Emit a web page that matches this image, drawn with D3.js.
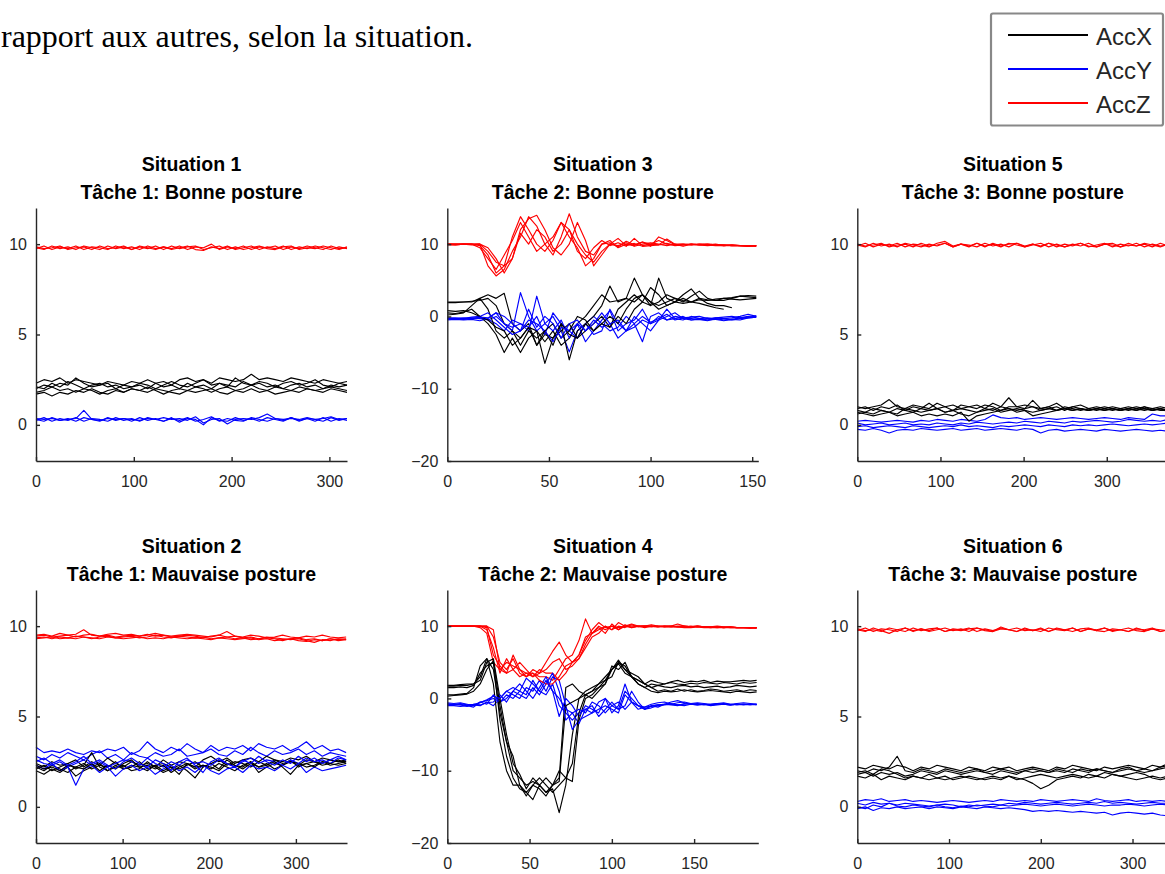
<!DOCTYPE html>
<html>
<head>
<meta charset="utf-8">
<script src="https://cdn.jsdelivr.net/npm/d3@7"></script>
<style>
body { margin: 0; background: #fff; }
svg { display: block; }
.axis path, .axis line { stroke: #262626; stroke-width: 1.4; }
.axis text { fill: #262626; font-family: "Liberation Sans", Arial, sans-serif; font-size: 16px; }
.title { font-family: "Liberation Sans", Arial, sans-serif; font-weight: bold; font-size: 19.5px; text-anchor: middle; fill: #000; }
.trace { fill: none; stroke-width: 1.15; stroke-linejoin: round; }
.legend text { font-family: "Liberation Sans", Arial, sans-serif; font-size: 24px; fill: #262626; }
.intro { font-family: "Liberation Serif", "Times New Roman", serif; font-size: 32px; fill: #000; }
</style>
</head>
<body>
<svg id="chart" width="1165" height="874"></svg>
<script>
// tick values and ranges
var xTicksLong = [0, 100, 200, 300],
    xTicksShort = [0, 50, 100, 150],
    yTicksFlat = [0, 5, 10],
    yTicksWide = [-20, -10, 0, 10],
    yDomainFlat = [-2, 12],
    yDomainWide = [-20, 15];

var legendNames = ["AccX", "AccY", "AccZ"],
    legendColors = ["#000000", "#0000ff", "#ff0000"];

// Situation 1 - Tâche 1: Bonne posture (318 samples)
var s1AccX = [
  [2.3,2.5,2.4,2.6,2.3,2.5,2.4,2.3,2.2,2.4,2.3,2.2,2.4,2.3,2.5,2.3,2.4,2.2,2.5,2.6,2.4,2.5,2.3,2.6,2.5,2.4,2.5,2.8,2.5,2.6,2.5,2.4,2.6,2.5,2.4,2.3,2.5,2.4,2.3,2.4],
  [2.0,2.2,2.1,2.3,2.2,2.6,2.3,2.1,2.2,2.3,2.0,2.2,2.1,2.2,2.0,2.3,2.1,2.2,2.0,2.3,2.1,2.2,2.0,2.3,2.2,2.1,2.4,2.2,2.3,2.1,2.2,2.0,2.2,2.3,2.1,2.2,2.0,2.2,2.1,2.2],
  [1.8,1.9,2.1,1.9,2.0,1.8,2.0,1.9,1.7,1.9,2.0,1.8,2.0,1.9,2.1,1.9,1.7,1.9,2.0,1.9,2.1,2.0,1.8,2.0,2.1,1.9,2.0,2.2,2.0,1.9,2.1,2.0,1.9,2.1,2.0,1.9,2.0,2.1,2.0,1.9],
  [1.7,1.8,1.6,1.8,1.7,1.9,1.8,2.0,1.8,1.7,1.9,1.8,2.0,1.9,1.8,2.0,1.9,1.8,1.7,1.9,1.8,1.9,2.0,1.8,1.7,1.9,1.8,2.0,1.8,1.9,1.7,1.8,1.9,1.8,2.0,1.9,1.8,2.0,1.9,1.8],
  [2.1,2.0,2.3,2.1,2.4,2.2,2.0,2.2,2.3,2.1,2.2,2.0,2.1,2.3,2.2,2.0,2.2,2.4,2.2,2.1,2.3,2.5,2.2,2.3,2.1,2.6,2.3,2.2,2.4,2.3,2.1,2.3,2.4,2.2,2.3,2.5,2.2,2.1,2.3,2.2]
];
var s1AccY = [
  [0.35,0.3,0.35,0.25,0.3,0.35,0.8,0.3,0.25,0.35,0.3,0.35,0.3,0.25,0.35,0.3,0.4,0.3,0.35,0.25,0.45,0.1,0.3,0.35,0.05,0.3,0.35,0.3,0.4,0.6,0.35,0.3,0.35,0.3,0.4,0.3,0.35,0.45,0.3,0.35],
  [0.3,0.2,0.4,0.25,0.35,0.2,0.4,0.3,0.2,0.4,0.25,0.35,0.2,0.4,0.25,0.35,0.2,0.4,0.15,0.35,0.3,0.0,0.4,0.25,0.2,0.4,0.25,0.35,0.2,0.4,0.3,0.2,0.4,0.25,0.35,0.2,0.4,0.2,0.35,0.25],
  [0.25,0.4,0.2,0.35,0.25,0.4,0.2,0.35,0.3,0.2,0.4,0.25,0.35,0.2,0.4,0.3,0.2,0.35,0.25,0.4,0.2,0.3,0.45,0.2,0.35,0.25,0.2,0.4,0.3,0.2,0.35,0.25,0.4,0.2,0.35,0.3,0.2,0.4,0.25,0.35]
];
var s1AccZ = [
  [9.8,9.7,9.9,9.75,9.85,9.7,9.9,9.8,9.7,9.9,9.75,9.85,9.7,9.9,9.8,9.7,9.85,9.75,9.9,9.7,9.85,9.8,10,9.7,9.85,9.75,9.9,9.7,9.85,9.8,9.9,9.7,9.85,9.75,9.9,9.8,9.7,9.9,9.75,9.8],
  [9.75,9.9,9.7,9.85,9.75,9.9,9.7,9.85,9.8,9.7,9.9,9.75,9.85,9.7,9.9,9.75,9.85,9.7,9.8,9.9,9.7,9.65,9.85,9.75,9.9,9.7,9.8,9.9,9.7,9.85,9.75,9.9,9.7,9.85,9.75,9.9,9.8,9.7,9.85,9.75],
  [9.85,9.75,9.8,9.9,9.7,9.8,9.85,9.7,9.9,9.75,9.8,9.9,9.7,9.85,9.75,9.9,9.7,9.9,9.75,9.85,9.9,9.7,9.8,9.9,9.7,9.85,9.7,9.8,9.9,9.75,9.7,9.85,9.9,9.7,9.8,9.75,9.9,9.8,9.7,9.85]
];

// Situation 2 - Tâche 1: Mauvaise posture (358 samples)
var s2AccX = [
  [2.2,2.0,2.3,2.1,1.9,2.2,2.4,2.1,2.3,2.2,2.5,2.1,2.3,2.2,2.0,2.3,2.4,2.2,2.1,2.3,2.5,2.2,2.4,2.6,2.3,2.5,2.4,2.2,2.5,2.3,2.6,2.4,2.5,2.3,2.6,2.5,2.4,2.6,2.5,2.5],
  [2.0,1.8,2.1,1.9,2.2,1.7,2.0,2.2,2.4,2.0,2.2,2.3,2.0,2.1,2.5,2.2,1.9,2.1,2.3,2.0,1.6,2.2,2.4,2.1,2.6,2.3,2.2,2.5,1.9,2.2,2.4,2.3,2.6,2.2,2.4,2.5,2.3,2.4,2.6,2.4],
  [2.4,2.2,2.5,2.3,2.4,2.6,2.2,2.5,2.3,2.7,2.4,2.2,2.5,2.3,2.4,2.2,2.6,2.3,2.5,2.4,2.2,2.6,2.8,2.5,2.7,2.4,2.6,2.7,2.5,2.8,2.6,2.5,2.7,2.6,2.8,2.5,2.7,2.6,2.5,2.6],
  [2.1,2.3,2.0,2.2,2.4,2.1,2.3,3.0,2.2,2.0,2.3,2.1,2.2,2.5,2.1,2.3,2.0,2.2,1.8,2.4,2.2,2.3,2.1,2.4,2.2,2.0,2.3,2.5,2.2,2.4,2.1,2.3,2.5,2.4,2.2,2.3,2.5,2.4,2.3,2.4],
  [2.3,2.1,2.2,2.0,2.3,2.2,2.1,2.4,2.0,2.3,2.1,2.4,2.6,2.2,2.3,2.1,2.3,1.9,2.2,2.4,2.1,2.3,2.2,2.0,2.4,2.3,2.1,2.4,2.2,2.3,2.5,2.2,1.8,2.3,2.4,2.2,2.5,2.3,2.4,2.5]
];
var s2AccY = [
  [3.3,3.0,3.1,3.0,3.2,3.0,2.9,3.1,3.0,3.2,3.1,3.3,2.9,3.1,3.6,3.2,3.0,3.3,3.1,3.5,3.2,3.0,3.4,3.1,3.3,3.2,3.4,3.1,3.5,3.3,3.2,3.4,3.1,3.3,3.6,3.2,3.4,3.1,3.2,3.0],
  [2.8,2.6,2.9,2.7,3.0,2.8,2.6,2.9,3.1,2.7,2.9,2.6,3.0,2.8,2.7,3.0,2.8,2.9,3.2,2.8,2.9,3.0,3.2,2.9,2.8,3.1,2.9,3.3,3.0,2.8,3.1,2.9,3.0,3.2,2.9,3.1,2.8,3.0,2.9,2.8],
  [2.6,2.4,2.3,2.5,2.2,2.4,2.6,2.3,2.5,2.2,2.4,2.6,2.5,2.3,2.7,2.4,2.2,2.5,2.3,2.6,2.4,2.5,2.3,2.6,2.4,2.2,2.5,2.7,2.4,2.6,2.5,2.3,2.6,2.4,2.7,2.5,2.6,2.4,2.7,2.6],
  [2.3,2.1,2.4,2.0,2.2,1.2,2.1,2.3,1.9,2.2,1.7,2.1,2.3,2.0,2.2,1.8,2.1,2.3,2.0,2.2,1.9,2.3,2.0,1.8,2.1,2.2,1.9,2.3,2.1,2.2,2.0,2.3,2.1,2.4,1.9,2.2,2.0,2.1,2.2,2.3],
  [2.5,2.7,2.4,2.6,2.3,2.5,2.8,2.4,2.6,2.3,2.1,2.5,2.7,2.4,2.2,2.6,2.4,2.0,2.5,2.7,2.3,1.9,2.5,2.7,2.4,2.2,2.6,2.4,2.8,2.5,2.3,2.6,2.4,2.8,2.5,2.7,2.4,2.6,2.8,2.6]
];
var s2AccZ = [
  [9.5,9.55,9.45,9.6,9.5,9.55,9.8,9.5,9.45,9.55,9.6,9.5,9.55,9.45,9.5,9.6,9.5,9.45,9.5,9.55,9.5,9.45,9.4,9.5,9.7,9.45,9.4,9.5,9.45,9.35,9.4,9.5,9.4,9.35,9.45,9.4,9.5,9.4,9.35,9.4],
  [9.35,9.4,9.3,9.4,9.35,9.45,9.4,9.3,9.4,9.45,9.35,9.4,9.45,9.35,9.4,9.5,9.4,9.35,9.45,9.4,9.35,9.4,9.3,9.35,9.4,9.3,9.35,9.25,9.3,9.35,9.3,9.2,9.3,9.35,9.25,9.3,9.2,9.3,9.25,9.3],
  [9.45,9.5,9.4,9.45,9.5,9.4,9.5,9.55,9.45,9.5,9.4,9.45,9.5,9.45,9.55,9.45,9.5,9.4,9.45,9.5,9.45,9.35,9.45,9.5,9.4,9.45,9.35,9.4,9.3,9.4,9.35,9.3,9.25,9.3,9.2,9.1,9.25,9.2,9.3,9.25],
  [9.3,9.35,9.4,9.3,9.35,9.3,9.4,9.35,9.3,9.4,9.35,9.3,9.35,9.4,9.3,9.35,9.3,9.4,9.35,9.3,9.35,9.3,9.25,9.35,9.3,9.25,9.3,9.35,9.25,9.3,9.2,9.25,9.3,9.2,9.15,9.25,9.2,9.3,9.2,9.25]
];

// Situation 3 - Tâche 2: Bonne posture (one value every 4 samples)
var s3AccX = [
  [2,2,2,2.1,2.2,2.5,1.5,-1,-2,-3,-1.5,-2,-3.5,-2,-4,-3,-1,0,1.5,3,2,2.2,2.5,5.3,3,2,1.5,2,2.5,2.2,2,2.3,2.2,2.4,2.5,2.6,2.8,2.7,2.6],
  [1.9,1.9,2,2,2.5,3,2.5,3.2,-1,-2,-1,-4,-2.5,-3,-1,-6,-2,-1,0,1.5,4.2,2,2.5,2,3,1.5,5.3,2.5,2,1.8,2,2.5,2.3,2.2,2.5,2.4,2.3,2.4,2.5],
  [0.5,0.4,0.6,1,0,-1,-2.5,-5,-3,-5,-3,-2,-6.5,-3,-2,-1,-3,-2,-1,0,-1.5,1,2,3,2,4,3,1.5,2,3,3.8,2.5,1.8,1.5,1.5,1.2],
  [0.2,0.3,0.5,1.5,2.5,1,-2,-3,-2,-4,-2,-3,-2,-4,-1,-2.5,-3,-1,-2,-1,0,-1,1,2.5,3,2,1,1.5,2,2.5,2,1.8,1.5,1.2,1],
  [0.8,0.7,0.8,0.5,0,-0.5,-1.5,-2,-4,-3,-1.5,-4,-2,-1,-3,-2,0,-0.5,-2,-1,-1.5,0,-1,1,2,1.5,2,3,2.5,2,2.8,3.5,2.5,2.2,2.2,2.5,2.8,2.9,2.8]
];
var s3AccY = [
  [-0.3,-0.3,-0.2,-0.3,-0.2,-0.5,0,-1,-2,3.3,0,-2,-1,0,-2,-4.9,-2,-1,0,-1,-2,-1.5,0,-1,-3.5,0,0.5,-0.5,-0.3,0,-0.5,-0.3,-0.5,-0.4,-0.3,-0.2,0,0.3,0],
  [-0.5,-0.4,-0.5,-0.4,-0.6,-0.3,0.5,-1,-1.5,-1,-2,2.8,-1,-2,-0.5,-3,-1,-3.5,-2,-0.5,0.8,-2,-1,-0.5,1,-1,-0.5,0,0.5,-0.3,-0.5,-0.4,-0.6,-0.3,-0.5,-0.4,-0.5,-0.2,-0.1],
  [-0.2,-0.2,-0.3,-0.2,-0.3,-0.4,-1,-2,-0.5,-1,-1.5,0,-2.5,0.5,-1,-2,-3,-1,-2.5,-2,1,-1,-2,0,-1,-2,-0.5,1,-0.3,-0.5,0,-0.3,-0.2,-0.4,-0.6,-0.4,-0.2,0,0.1],
  [-0.3,-0.4,-0.3,-0.1,0,0.5,-0.5,-1.5,-2.5,-2,-0.5,-1,-2,-3.5,-1.5,-2,-1,-2,-0.5,-1.5,-1,-3,-2,-1.5,-0.5,-1,0,-0.5,0,-0.2,-0.1,0,-0.3,-0.2,-0.1,0,-0.2,-0.1,0],
  [-0.4,-0.3,-0.4,-0.3,-0.1,-0.2,0.5,0,-1,-2,1,-1.5,0,-1,-3,-1,-0.5,-2,-1,0.5,-1,-0.5,-2,-1,0,-0.8,-0.3,0.3,-0.5,-0.2,-0.3,-0.4,-0.5,-0.2,-0.3,-0.5,-0.3,-0.2,-0.1]
];
var s3AccZ = [
  [10,10,10,10,9.8,8.5,6,7,11,13.8,12,10,9,10.5,13,12,9,8,9.5,10.5,9.8,10.2,9.7,10.8,9.8,10,9.9,10.1,9.8,9.9,10,9.9,9.8,9.9,9.8,9.8,9.8,9.7,9.8],
  [9.9,9.9,10,9.9,10,7,5.6,6.5,9,11,13.8,12.5,10,8.5,11,14.2,11,9,8.5,10,10.5,9.5,10,9.8,10.3,9.7,11,10.5,9.9,10,9.9,10,10,9.9,9.9,9.8,9.8,9.8,9.8],
  [10,10,10,10,10,9,7.5,7,8,12,13.5,14,12,9.5,8.5,10,13,10.5,7,8.5,10,9.8,10.2,9.7,10,10.2,10,9.8,10,10,9.9,10,9.9,10,9.8,9.9,9.8,9.8,9.7],
  [10,9.9,10,10,9.5,8,6.5,8.5,10.5,13,11,9,10,11,13,11,9.5,7,8,10,10.2,9.6,10.4,9.9,10.3,10,10.5,10,9.9,9.9,10,9.9,9.9,9.8,9.8,9.9,9.8,9.7,9.8],
  [10,10,10,10,10,9.5,8,6,8,11.5,10,12,11,9,10,12,10,8.5,7.5,9,10,10.8,9.8,10.1,9.7,9.8,9.9,10.7,10,9.7,10,9.9,10,9.9,9.9,9.8,9.8,9.8,9.8]
];

// Situation 4 - Tâche 2: Mauvaise posture (188 samples)
var s4AccX = [
  [1.8,1.8,1.9,2,2,3,5.5,4,-2,-6,-10,-11,-12,-11.5,-12,-11,-12,-11,1.5,2,1,0.5,1,1.5,2.5,3,5,4,3,2.5,2,2.5,2.2,2,2.3,2.5,2.2,2.4,2.3,2.5,2.2,2.4,2.3,2.3,2.4,2.5,2.4,2.5],
  [1.5,1.5,1.6,1.5,1.8,3.5,4.5,5,-3,-8,-11,-12.5,-13,-14,-12,-13,-12.5,-15.8,-12,-5,0,1,1.5,2,3,4,5.3,4,3.5,3,2,1.5,1,1.2,1,1.3,1,1.2,1,1.1,1.3,1.2,1,1.1,1.2,1,1.2,1.1],
  [0.5,0.5,0.6,0.7,1.5,4.5,5.5,2,-6,-10,-12,-12,-13,-12,-11,-12,-13,-12,-11,-11.5,-3,0,0.5,1.5,2,4,5,4.5,3,2,1.5,1,0.8,1,0.9,1,1.2,1,0.9,1,1.1,1,0.9,0.8,1,0.9,0.8,0.9],
  [1.7,1.7,1.8,1.8,2,2.5,5,5.5,0,-5,-9,-10.5,-12.5,-11,-12,-13,-12,-11.5,-1,-0.5,0,0.5,0,1,2,4.5,4,5,3,2,1.5,2,1.8,2,2.2,2,1.9,2.1,2,2.2,2.1,2,2.2,2.1,2,2.2,2.1,2.2],
  [0.3,0.4,0.5,0.6,1,2,4,5.2,-1,-6,-8,-12,-13.5,-12,-12.5,-13.5,-12,-10,-11,-9,-2,0.5,1,2,2.5,4,4.8,3.5,3,2.5,2,1.5,1.8,1.6,1.5,1.7,1.8,1.6,1.7,1.5,1.6,1.7,1.5,1.6,1.8,1.7,1.6,1.7]
];
var s4AccY = [
  [-0.8,-0.9,-0.8,-1,-1.2,-0.5,-0.3,0,-0.5,0.5,0,1,0.5,2.5,1,0.5,2,-1,-2,-3,-2,-1.5,-2,-0.5,0,-1,-0.5,-1.5,-0.5,-1,-1.5,-1,-1.2,-0.8,-0.5,-0.3,-0.6,-0.8,-0.7,-0.8,-0.9,-0.8,-0.7,-0.8,-0.9,-0.8,-0.8,-0.8],
  [-1,-1,-1.1,-1,-0.9,-1,-0.5,-1,0,1,0.5,0,1.5,1,2.5,1,3,2.5,-1,-4.3,-3,-2.5,-2,-1.5,-1,-1.5,-2,0.5,-0.5,-1,-1.5,-1.3,-1,-0.9,-0.8,-0.9,-1,-0.8,-0.9,-0.8,-1,-0.9,-0.8,-0.9,-0.8,-0.9,-0.8,-0.9],
  [-0.6,-0.7,-0.6,-0.8,-1,-0.5,-0.8,0.5,-0.5,0,1,2,1,0,1.5,3,1,-2.5,0,-1,-2.5,-1,-1.5,-2,0,-2,-1,2,-0.5,-1.5,-1.2,-0.8,-0.6,-0.5,-0.8,-0.6,-0.5,-0.7,-0.6,-0.7,-0.8,-0.7,-0.6,-0.8,-0.7,-0.6,-0.7,-0.8],
  [-0.9,-0.8,-0.9,-1.1,-0.8,-0.9,-0.6,-0.5,0.5,-0.5,1,0.5,0,1.5,0.5,2,3.5,1,-3,-2,-3.5,-1.5,-1,-2.5,-1.5,-0.5,-1.5,-1,1,-0.5,-1.5,-1,-0.9,-0.8,-0.9,-1,-0.7,-0.8,-0.9,-0.8,-0.9,-0.8,-0.8,-0.9,-0.8,-0.8,-0.9,-0.8],
  [-0.7,-0.8,-0.7,-0.9,-0.8,-0.6,-0.2,0.3,0,1,1.5,1,2.8,2,1,2.5,1,0,-1.5,-2,-1.5,-2,-0.5,-1,-2,-1,-1.5,1,0,-1,-1.2,-1.1,-0.9,-0.8,-0.7,-0.9,-0.8,-0.7,-0.8,-0.9,-0.8,-0.7,-0.8,-0.9,-0.8,-0.8,-0.8,-0.8]
];
var s4AccZ = [
  [10,10,10,10,10,9.8,9,5,4,5,4.5,4,3.5,3.5,3,3,2.5,4,5.5,6,8,11,9,9.5,10,9.5,10.5,10,9.8,10,10,10,9.9,10,9.9,10,10,9.9,10,9.9,9.9,10,9.9,9.9,9.8,9.8,9.8,9.8],
  [10,10,10,10,10,10,9.5,7,3.5,5.5,4,5,4,3,4,3.5,3.5,2.5,3.5,5,6,8.5,9,9.8,9,10.3,9.5,10.2,9.8,10,10,10.2,10,9.9,10,9.9,9.9,10,9.9,9.9,9.8,9.9,9.8,9.9,9.8,9.8,9.8,9.7],
  [10,10,10,10,10,10,10,9.5,4,3.5,6,4,3,4,3.5,4,5,5.5,4,4.5,5.5,7.5,9,10,9.5,10,9.8,10,10.3,10,9.8,10,10,10,10,9.9,10,9.9,10,9.9,9.9,9.9,9.8,9.9,9.8,9.8,9.8,9.8],
  [10,10,10,10,10,10,10,8.5,5,4,5.5,3.5,3,3.5,2.5,2,2,3,4.5,5,5.5,7,8.5,9,10,9.5,10,9.8,10.2,9.9,10,10,9.9,10,10,10.3,10,9.9,10,9.9,9.9,9.8,9.9,9.8,9.8,9.8,9.8,9.8],
  [10,10,10,10,10,10,9.8,6,4.5,3.5,4,3,3.5,3,3.5,5,6.5,7.8,6,5,6,8,9.5,10.5,9.8,10,9.5,10,10,10,10,9.9,10,9.9,9.9,9.9,9.8,9.8,9.9,9.8,9.8,9.8,9.8,9.8,9.8,9.8,9.7,9.8]
];

// Situation 5 - Tâche 3: Bonne posture (374 samples)
var s5AccX = [
  [1.0,0.9,1.0,1.1,1.4,1.0,0.9,1.1,1.0,0.9,1.2,1.0,1.1,0.9,1.0,1.1,0.9,1.2,1.0,1.5,1.0,1.1,1.0,0.9,1.0,1.2,0.9,1.0,1.1,0.9,1.0,0.9,1.0,0.9,1.0,0.9,1.0,0.9,1.0,0.9],
  [0.9,1.0,0.8,1.0,0.9,1.1,0.8,1.0,0.9,1.2,0.9,1.0,0.8,1.1,1.0,0.9,1.1,1.0,0.8,1.0,1.0,0.9,1.35,0.9,1.0,0.8,1.0,0.9,0.8,0.9,0.8,0.9,0.8,0.9,0.8,0.9,0.8,0.9,0.8,0.8],
  [0.8,0.7,0.9,0.8,0.7,0.9,0.8,0.7,0.9,0.8,0.9,0.7,0.8,0.6,0.5,0.7,0.8,0.9,0.7,0.8,0.9,0.8,0.7,0.8,0.9,0.8,0.9,0.8,0.9,0.8,0.9,0.8,0.9,0.8,0.9,0.8,0.9,0.8,0.9,0.8],
  [0.7,0.6,0.5,0.6,0.7,0.5,0.6,0.7,0.5,0.6,0.5,0.6,0.5,0.7,0.2,0.5,0.6,0.7,0.8,0.9,0.7,0.8,0.5,0.6,0.7,0.8,0.9,0.8,0.9,0.8,0.9,0.8,0.9,0.8,0.9,0.8,1.0,0.8,0.9,0.8],
  [0.6,0.7,0.6,0.8,0.7,0.6,0.9,0.8,0.7,0.8,0.9,0.7,0.8,0.9,0.8,0.7,0.9,0.8,1.0,0.9,0.8,0.9,1.0,0.8,0.9,1.0,0.8,1.0,0.9,0.8,0.9,1.0,0.9,0.8,0.9,1.0,0.9,0.8,0.9,0.7]
];
var s5AccY = [
  [0.2,0.25,0.2,0.15,0.2,0.25,0.2,0.15,0.25,0.2,0.3,0.25,0.2,0.3,0.25,0.2,0.3,0.55,0.4,0.35,0.4,0.3,0.35,0.4,0.35,0.3,0.35,0.4,0.35,0.3,0.35,0.4,0.35,0.3,0.4,0.35,0.3,0.6,0.5,0.5],
  [0.1,0.0,0.05,0.1,0.0,0.05,0.1,0.0,0.05,0.0,0.1,0.05,0.0,0.1,0.05,0.15,0.1,0.05,0.1,0.15,0.1,0.2,0.15,0.1,0.2,0.15,0.1,0.2,0.15,0.2,0.25,0.2,0.15,0.2,0.3,0.25,0.2,0.25,0.2,0.3],
  [-0.1,-0.05,-0.15,-0.1,-0.05,-0.1,-0.15,-0.05,-0.1,-0.15,-0.1,-0.05,-0.1,0.0,-0.1,-0.05,-0.1,-0.15,-0.05,-0.1,-0.05,0.0,-0.05,-0.1,0.0,-0.05,-0.1,0.0,-0.05,0.0,-0.05,0.0,0.05,0.0,-0.05,0.0,0.05,0.0,0.05,0.1],
  [-0.25,-0.3,-0.2,-0.3,-0.45,-0.3,-0.25,-0.3,-0.2,-0.25,-0.3,-0.25,-0.2,-0.3,-0.25,-0.2,-0.3,-0.25,-0.2,-0.25,-0.3,-0.2,-0.25,-0.45,-0.3,-0.25,-0.35,-0.3,-0.25,-0.3,-0.35,-0.25,-0.3,-0.35,-0.3,-0.25,-0.3,-0.35,-0.3,-0.35]
];
var s5AccZ = [
  [9.95,9.85,10.05,9.9,10,9.85,10.05,9.95,9.85,10,9.9,10.05,9.85,10,9.95,9.85,10.05,9.9,10,9.85,10.05,9.9,10,9.85,10.05,9.95,9.85,10,9.9,10.05,9.85,10,9.95,9.85,10.05,9.9,10,9.85,10.05,9.9],
  [9.9,10.05,9.85,10,9.9,10.05,9.85,10,9.95,9.85,10.05,10.15,9.9,10,9.85,10.05,9.9,10,9.85,10.05,9.95,9.85,10,9.9,10.05,9.85,10,9.9,10.05,9.85,9.95,10.05,9.85,10,9.9,10.05,9.85,10,9.9,9.95],
  [10,9.9,9.95,10.05,9.85,9.95,10,9.85,10.05,9.9,9.95,10.05,9.85,10,9.9,10.05,9.85,10.05,9.9,10,10.05,9.85,9.95,10.05,9.85,10,9.85,9.95,10.05,9.9,9.85,10,10.05,9.85,9.95,9.9,10.05,9.95,9.85,10]
];

// Situation 6 - Tâche 3: Mauvaise posture (339 samples)
var s6AccX = [
  [2.2,2.1,2.3,2.2,2.1,2.3,2.2,2.0,2.2,2.1,2.3,2.2,2.1,2.0,2.2,2.1,2.0,2.2,2.1,2.2,2.0,2.1,2.2,2.1,2.0,2.2,2.1,2.3,2.2,2.1,2.0,2.2,2.1,2.2,2.3,2.2,2.1,2.3,2.2,2.4],
  [2.0,1.9,2.1,2.0,2.2,2.8,2.0,1.9,2.1,2.0,1.9,2.1,2.0,1.9,2.0,2.1,1.9,2.0,2.1,2.0,1.9,2.0,2.1,2.0,1.9,2.1,2.0,1.9,2.1,2.0,2.1,2.0,1.9,2.1,2.2,2.0,2.1,2.0,2.2,2.3],
  [1.8,1.9,1.7,1.9,1.8,1.9,1.7,1.8,2.0,1.9,1.8,2.0,1.9,1.8,1.9,2.0,1.9,1.8,2.0,1.9,1.8,2.0,1.9,2.0,1.9,2.0,1.9,2.1,2.0,1.9,2.1,2.0,1.9,2.0,2.1,2.0,1.9,2.0,2.1,2.2],
  [1.7,1.6,1.8,1.5,1.7,1.6,1.5,1.7,1.6,1.8,1.6,1.7,1.5,1.6,1.7,1.6,1.5,1.6,1.5,1.7,1.6,1.5,1.3,1.0,1.2,1.5,1.6,1.7,1.6,1.8,1.7,1.9,1.8,1.7,1.8,1.9,1.8,1.6,1.5,1.6],
  [1.9,2.0,1.8,2.1,2.0,1.8,1.6,1.7,1.6,1.5,1.6,1.5,1.6,1.7,1.6,1.5,1.6,1.7,1.6,1.7,1.5,1.6,1.7,1.8,1.7,1.6,1.7,1.8,1.7,1.6,1.7,1.6,1.8,1.7,1.6,1.5,1.6,1.7,1.6,1.7]
];
var s6AccY = [
  [0.3,0.4,0.35,0.45,0.3,0.35,0.4,0.3,0.35,0.3,0.25,0.3,0.35,0.3,0.25,0.3,0.35,0.3,0.4,0.35,0.3,0.35,0.3,0.4,0.35,0.3,0.35,0.4,0.35,0.3,0.45,0.35,0.3,0.35,0.4,0.3,0.35,0.3,0.35,0.3],
  [0.2,0.1,0.25,0.15,0.2,0.1,0.2,0.15,0.1,0.05,0.1,0.15,0.1,0.0,0.1,0.05,0.1,0.15,0.1,0.2,0.15,0.25,0.2,0.15,0.2,0.25,0.2,0.15,0.2,0.25,0.2,0.3,0.2,0.25,0.2,0.15,0.2,0.25,0.2,0.2],
  [0.0,-0.1,0.1,0.0,0.2,0.05,0.0,0.1,0.05,0.0,0.1,0.0,-0.05,0.05,0.0,0.1,0.05,0.0,0.1,0.05,0.1,0.15,0.1,0.05,0.1,0.15,0.1,0.05,0.1,0.15,0.1,0.05,0.1,0.1,0.15,0.1,0.05,0.1,0.15,0.1],
  [-0.1,0.0,-0.2,-0.05,-0.1,0.0,-0.1,-0.05,0.0,-0.1,0.0,-0.05,-0.1,0.0,-0.05,-0.1,0.0,-0.05,-0.1,-0.05,-0.1,-0.15,-0.25,-0.2,-0.25,-0.2,-0.25,-0.3,-0.25,-0.3,-0.35,-0.3,-0.45,-0.35,-0.3,-0.35,-0.4,-0.35,-0.45,-0.5]
];
var s6AccZ = [
  [9.8,9.7,9.9,9.75,9.6,9.8,9.9,9.7,9.85,9.75,9.9,9.7,9.85,9.8,9.9,9.7,9.85,9.75,9.9,9.8,9.7,9.85,9.75,9.9,9.7,9.85,9.8,9.9,9.7,9.85,9.75,9.9,9.7,9.8,9.9,9.75,9.7,9.85,9.8,9.75],
  [9.75,9.9,9.7,9.85,9.8,9.7,9.9,9.75,9.85,9.7,9.8,9.9,9.75,9.85,9.7,9.9,9.8,9.7,9.95,9.8,9.7,9.9,9.75,9.85,9.7,9.9,9.8,9.7,9.85,9.9,9.75,9.7,9.85,9.8,9.7,9.9,9.75,9.85,9.7,9.8],
  [9.85,9.75,9.8,9.7,9.9,9.8,9.7,9.9,9.75,9.85,9.9,9.7,9.8,9.75,9.85,9.9,9.75,9.7,9.85,9.8,9.9,9.75,9.8,9.7,9.9,9.8,9.75,9.9,9.7,9.85,9.8,9.9,9.75,9.8,9.7,9.85,9.8,9.9,9.7,9.8]
];

var plotW = 311, plotH = 253;
var colLeft = [36, 447.3, 857.3],
    rowTop = [208, 590];

var panels = [
  {title: ["Situation 1", "Tâche 1: Bonne posture"], col: 0, row: 0, len: 318, xMax: 318, xTicks: xTicksLong, yDomain: yDomainFlat, yTicks: yTicksFlat, accX: s1AccX, accY: s1AccY, accZ: s1AccZ},
  {title: ["Situation 2", "Tâche 1: Mauvaise posture"], col: 0, row: 1, len: 358, xMax: 359, xTicks: xTicksLong, yDomain: yDomainFlat, yTicks: yTicksFlat, accX: s2AccX, accY: s2AccY, accZ: s2AccZ},
  {title: ["Situation 3", "Tâche 2: Bonne posture"], col: 1, row: 0, len: 152, step: 4, xMax: 153, xTicks: xTicksShort, yDomain: yDomainWide, yTicks: yTicksWide, accX: s3AccX, accY: s3AccY, accZ: s3AccZ},
  {title: ["Situation 4", "Tâche 2: Mauvaise posture"], col: 1, row: 1, len: 188, xMax: 189, xTicks: xTicksShort, yDomain: yDomainWide, yTicks: yTicksWide, accX: s4AccX, accY: s4AccY, accZ: s4AccZ},
  {title: ["Situation 5", "Tâche 3: Bonne posture"], col: 2, row: 0, len: 374, xMax: 374, xTicks: xTicksLong, yDomain: yDomainFlat, yTicks: yTicksFlat, accX: s5AccX, accY: s5AccY, accZ: s5AccZ},
  {title: ["Situation 6", "Tâche 3: Mauvaise posture"], col: 2, row: 1, len: 339, xMax: 339, xTicks: xTicksLong, yDomain: yDomainFlat, yTicks: yTicksFlat, accX: s6AccX, accY: s6AccY, accZ: s6AccZ}
];

var svg = d3.select("#chart");

svg.append("text")
    .attr("class", "intro")
    .attr("x", 1)
    .attr("y", 47)
    .text("rapport aux autres, selon la situation.");

panels.forEach(function(p) {
  var left = colLeft[p.col], top = rowTop[p.row];

  var x = d3.scaleLinear()
      .domain([0, p.xMax])
      .range([left, left + plotW]);

  var y = d3.scaleLinear()
      .domain(p.yDomain)
      .range([top + plotH, top]);

  var g = svg.append("g");

  function tracePath(vals) {
    var step = p.step || p.len / (vals.length - 1);
    return d3.line()
        .x(function(d, i) { return x(i * step); })
        .y(function(d) { return y(d); })(vals);
  }

  // one recording after another, X then Y then Z
  var n = Math.max(p.accX.length, p.accY.length, p.accZ.length);
  for (var i = 0; i < n; i++) {
    [p.accX[i], p.accY[i], p.accZ[i]].forEach(function(vals, k) {
      if (!vals) return;
      g.append("path")
          .attr("class", "trace")
          .attr("stroke", legendColors[k])
          .attr("d", tracePath(vals));
    });
  }

  g.append("g")
      .attr("class", "axis")
      .attr("transform", "translate(0," + (top + plotH) + ")")
      .call(d3.axisBottom(x).tickValues(p.xTicks).tickSizeInner(-4).tickSizeOuter(0).tickPadding(15));

  g.append("g")
      .attr("class", "axis")
      .attr("transform", "translate(" + left + ",0)")
      .call(d3.axisLeft(y).tickValues(p.yTicks).tickSizeInner(-4).tickSizeOuter(0).tickPadding(9));

  g.append("text")
      .attr("class", "title")
      .attr("x", left + plotW / 2)
      .attr("y", top - 37)
      .text(p.title[0]);

  g.append("text")
      .attr("class", "title")
      .attr("x", left + plotW / 2)
      .attr("y", top - 9)
      .text(p.title[1]);
});

// legend box top right
var legend = svg.append("g").attr("class", "legend");

legend.append("rect")
    .attr("x", 991)
    .attr("y", 13.5)
    .attr("width", 172)
    .attr("height", 112)
    .attr("rx", 2)
    .attr("fill", "#fff")
    .attr("stroke", "#888")
    .attr("stroke-width", 2.2);

var item = legend.selectAll(".item")
    .data(legendNames)
  .enter().append("g")
    .attr("class", "item")
    .attr("transform", function(d, i) { return "translate(0," + (35 + i * 34) + ")"; });

item.append("line")
    .attr("x1", 1008)
    .attr("x2", 1088)
    .attr("stroke", function(d, i) { return legendColors[i]; })
    .attr("stroke-width", 1.8);

item.append("text")
    .attr("x", 1096)
    .attr("dy", "0.42em")
    .text(function(d) { return d; });
</script>
</body>
</html>
